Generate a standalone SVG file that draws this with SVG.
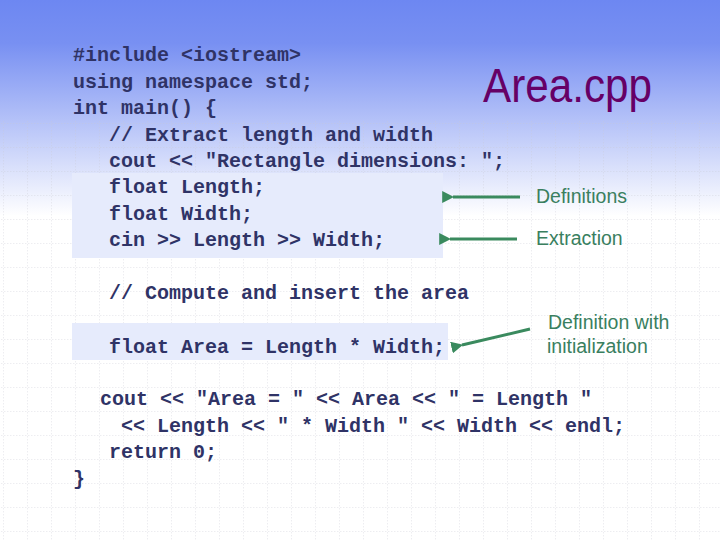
<svg xmlns="http://www.w3.org/2000/svg" width="720" height="540" viewBox="0 0 720 540">
<defs>
<linearGradient id="bg" x1="0" y1="0" x2="0" y2="1">
<stop offset="0" stop-color="#6d87f2"/>
<stop offset="0.08" stop-color="#7890f2"/>
<stop offset="0.4" stop-color="#ffffff"/>
<stop offset="1" stop-color="#ffffff"/>
</linearGradient>
<pattern id="grid" width="24" height="24" patternUnits="userSpaceOnUse" x="4" y="4">
<path d="M24 0V24M0 24H24" fill="none" stroke="#c8c8d0" stroke-width="0.8" stroke-dasharray="1.5 1.5"/>
</pattern>
<marker id="ah" viewBox="0 0 10 10" refX="1" refY="5" markerWidth="4" markerHeight="4" orient="auto-start-reverse">
<path d="M10 0L0 5L10 10z" fill="#3a8a5e"/>
</marker>
<style>
.code{font-family:"Liberation Mono",monospace;font-weight:bold;font-size:20px;fill:#2f3366;white-space:pre}
.lbl{font-family:"Liberation Sans",Arial,sans-serif;font-size:19.5px;fill:#3a7f5f}
.hl{fill:#e6ebfc}
.arr{stroke:#3a8a5e;stroke-width:3;fill:none}
</style>
</defs>
<rect width="720" height="540" fill="url(#bg)"/>
<rect y="120" width="720" height="420" fill="url(#grid)" opacity="0.8"/>
<rect class="hl" x="72" y="173" width="371" height="85"/>
<rect class="hl" x="72" y="323" width="376" height="37"/>
<text x="483" y="102" font-family="Liberation Sans,Arial,sans-serif" font-size="48" fill="#660066" textLength="169" lengthAdjust="spacingAndGlyphs">Area.cpp</text>
<g id="code">
<text class="code" x="73" y="61">#include &lt;iostream&gt;</text>
<text class="code" x="73" y="88">using namespace std;</text>
<text class="code" x="73" y="114">int main() {</text>
<text class="code" x="109" y="141">// Extract length and width</text>
<text class="code" x="109" y="167">cout &lt;&lt; "Rectangle dimensions: ";</text>
<text class="code" x="109" y="193">float Length;</text>
<text class="code" x="109" y="220">float Width;</text>
<text class="code" x="109" y="246">cin &gt;&gt; Length &gt;&gt; Width;</text>
<text class="code" x="109" y="299">// Compute and insert the area</text>
<text class="code" x="109" y="353">float Area = Length * Width;</text>
<text class="code" x="100" y="405">cout &lt;&lt; "Area = " &lt;&lt; Area &lt;&lt; " = Length "</text>
<text class="code" x="121" y="432">&lt;&lt; Length &lt;&lt; " * Width " &lt;&lt; Width &lt;&lt; endl;</text>
<text class="code" x="109" y="458">return 0;</text>
<text class="code" x="73" y="485">}</text>
</g>
<g id="labels">
<text class="lbl" x="536" y="203">Definitions</text>
<text class="lbl" x="536" y="245">Extraction</text>
<text class="lbl" x="548" y="329">Definition with</text>
<text class="lbl" x="547" y="353">initialization</text>
</g>
<g id="connectors">
<line class="arr" x1="520" y1="197" x2="453" y2="197" marker-end="url(#ah)"/>
<line class="arr" x1="517" y1="239" x2="450" y2="239" marker-end="url(#ah)"/>
<line class="arr" x1="530" y1="329" x2="462" y2="345" marker-end="url(#ah)"/>
</g>
</svg>
